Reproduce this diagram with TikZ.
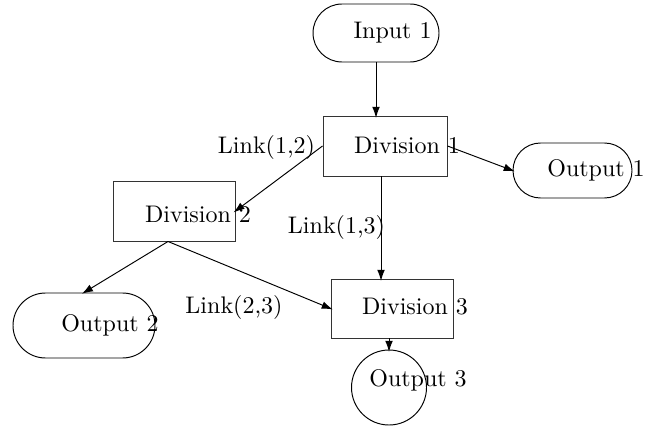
\documentclass[tikz,border=0pt]{standalone}
\usetikzlibrary{arrows.meta}
\begin{document}
\begin{tikzpicture}[x=0.4167pt,y=-0.4167pt,
  box/.style={draw=black!80,rectangle,inner sep=0pt,minimum width=#1*0.4167pt},
  pill/.style={draw,rectangle,inner sep=0pt,minimum width=#1*0.4167pt},
  txt/.style={inner sep=0pt,anchor=center},
  conn/.style={-{Latex[length=4.6pt,width=3.2pt]},line width=0.4pt,shorten >=-1pt}]
\useasboundingbox (0,0) rectangle (646,426);
% shapes
\node[pill=126,minimum height=58*0.4167pt,rounded corners=29*0.4167pt] (i1) at (376,33) {};
\node[box=124,minimum height=60*0.4167pt] (d1) at (385,146) {};
\node[pill=119,minimum height=55*0.4167pt,rounded corners=27.5*0.4167pt] (o1) at (572.5,170.5) {};
\node[box=122,minimum height=60*0.4167pt] (d2) at (174,211) {};
\node[pill=142,minimum height=65*0.4167pt,rounded corners=32.5*0.4167pt] (o2) at (84,325.5) {};
\node[box=122,minimum height=59*0.4167pt] (d3) at (392,308.5) {};
\node[draw,circle,inner sep=0pt,minimum size=75*0.4167pt] (o3) at (389,387.5) {};
% texts
\node[txt] (ti1) at (392.5,33) {Input 1};
\node[txt] (td1) at (407,145) {Division 1};
\node[txt] (to1) at (596,170) {Output 1};
\node[txt] (td2) at (198,214) {Division 2};
\node[txt] (to2) at (110,325) {Output 2};
\node[txt] (td3) at (415,307) {Division 3};
\node[txt] (to3) at (418,380) {Output 3};
\node[txt] (l12) at (266.5,148) {Link(1,2)};
\node[txt] (l13) at (336.5,227) {Link(1,3)};
\node[txt] (l23) at (234,307) {Link(2,3)};
% connectors
\path (d1.south) ++(-4,0) coordinate (c13);
\path (d2.south) ++(-6,0) coordinate (c2);
\draw[conn] (i1.south) -- (i1.south |- d1.north);
\draw[conn] (d1.west) -- (d2.east);
\draw[conn] (d1.east) -- (o1.west);
\draw[conn] (c13) -- (c13 |- d3.north);
\draw[conn] (c2) -- (o2.north);
\draw[conn] (c2) -- (d3.west);
\draw[conn] (o3.north |- d3.south) -- (o3.north);
\end{tikzpicture}
\end{document}
